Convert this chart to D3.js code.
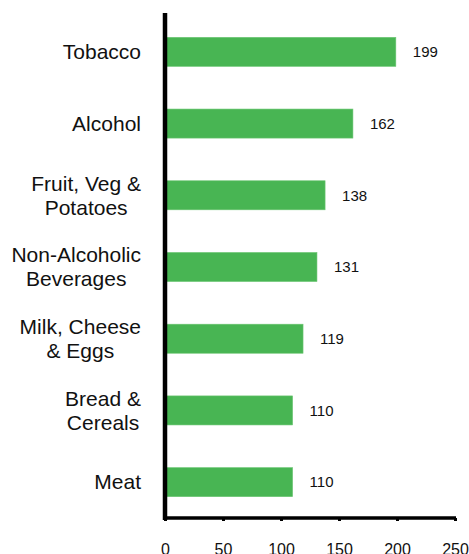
<!DOCTYPE html>
<html>
<head>
<meta charset="utf-8">
<script src="https://cdn.jsdelivr.net/npm/d3@7"></script>
<style>
  body { margin: 0; background: #fff; }
  text { font-family: 'Liberation Sans', Arial, sans-serif; fill: #111; }
</style>
</head>
<body>
<div id="chart"></div>
<script>
var categories = [
  'Tobacco',
  'Alcohol',
  'Fruit, Veg &\nPotatoes',
  'Non-Alcoholic\nBeverages',
  'Milk, Cheese\n& Eggs',
  'Bread &\nCereals',
  'Meat'
]
var values = [199, 162, 138, 131, 119, 110, 110]
var xTicks = [0, 50, 100, 150, 200, 250]

var width = 469
var height = 554

var svg = d3
  .select('#chart')
  .append('svg')
  .attr('width', width)
  .attr('height', height)

var xScale = d3.scaleLinear().domain([0, 250]).range([165, 455])

var yScale = d3
  .scaleBand()
  .domain(categories)
  .range([16, 518])
  .paddingInner(0.595)
  .paddingOuter(0.2975)

// bars
svg
  .selectAll('.bar')
  .data(values)
  .enter()
  .append('rect')
  .attr('class', 'bar')
  .attr('x', xScale(0))
  .attr('y', (d, i) => yScale(categories[i]))
  .attr('width', d => xScale(d) - xScale(0))
  .attr('height', yScale.bandwidth())
  .attr('fill', '#48b553')
  .attr('stroke', '#6cc673')
  .attr('stroke-width', 0.6)

// value labels
svg
  .selectAll('.value')
  .data(values)
  .enter()
  .append('text')
  .attr('class', 'value')
  .attr('x', d => xScale(d) + 17)
  .attr('y', (d, i) => yScale(categories[i]) + yScale.bandwidth() / 2)
  .attr('dy', '0.35em')
  .attr('font-size', 15)
  .text(d => d)

// category labels, lines centred, block right-aligned
categories.forEach(function(c) {
  var lines = c.split('\n')
  var g = svg.append('text').attr('font-size', 21).attr('text-anchor', 'middle')
  var cy = yScale(c) + yScale.bandwidth() / 2
  var lh = 24
  lines.forEach(function(l, j) {
    g.append('tspan')
      .attr('y', cy + (j - (lines.length - 1) / 2) * lh)
      .attr('dy', '0.35em')
      .text(l)
  })
  var w = d3.max(g.selectAll('tspan').nodes(), n => n.getComputedTextLength())
  g.selectAll('tspan').attr('x', 141 - w / 2)
})

// y axis line
svg
  .append('line')
  .attr('x1', xScale(0))
  .attr('x2', xScale(0))
  .attr('y1', 13)
  .attr('y2', 520)
  .attr('stroke', '#000')
  .attr('stroke-width', 4.5)

// x axis
var xAxis = svg
  .append('g')
  .attr('transform', 'translate(0,518)')
  .call(
    d3
      .axisBottom(xScale)
      .tickValues(xTicks)
      .tickSize(3)
      .tickPadding(23)
  )

xAxis.select('.domain').attr('stroke', '#000').attr('stroke-width', 3.5)
  .attr('d', 'M' + (xScale(0) - 2) + ',0H' + (xScale(250) + 1))
xAxis.selectAll('.tick line').attr('stroke', '#000').attr('stroke-width', 3)
xAxis
  .selectAll('.tick text')
  .attr('font-size', 16)
  .attr('font-family', "'Liberation Sans', Arial, sans-serif")
  .attr('fill', '#111')
</script>
</body>
</html>
